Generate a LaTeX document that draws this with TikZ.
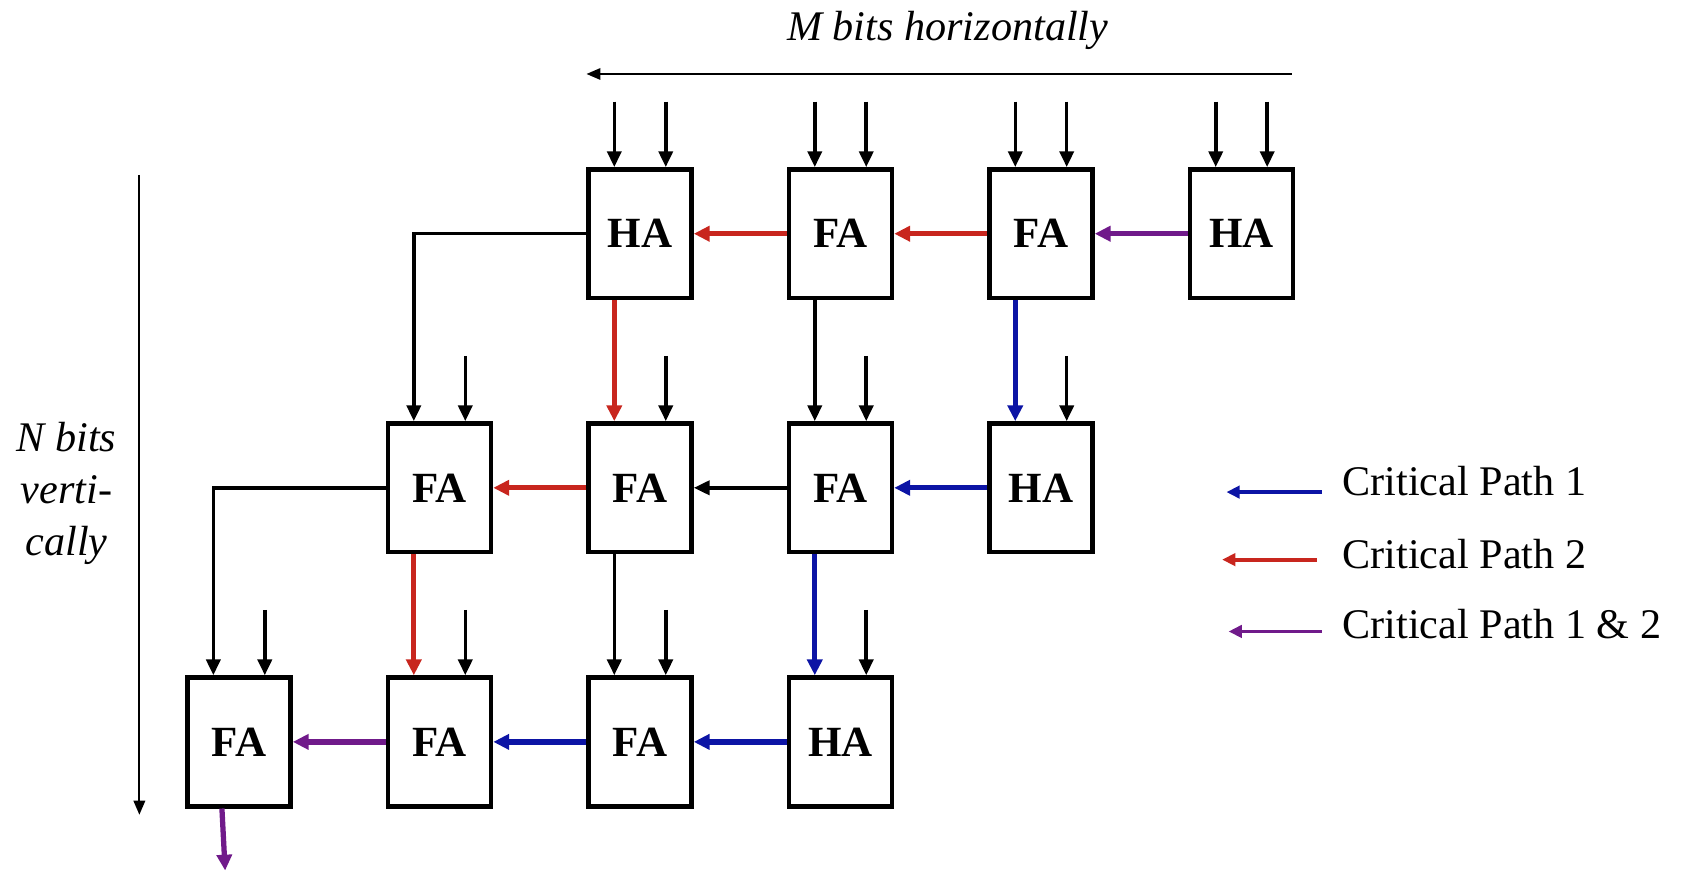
\documentclass[tikz,border=0pt]{standalone}
\usepackage{fontspec}
\setmainfont{Liberation Serif}
\usetikzlibrary{arrows.meta,calc}
\definecolor{cpred}{RGB}{200,38,30}
\definecolor{cpblue}{RGB}{12,20,165}
\definecolor{cppurple}{RGB}{112,26,138}
\begin{document}
\begin{tikzpicture}[x=0.02144cm,y=-0.02144cm,
  adder/.style={draw, line width=2.6pt, minimum width=2.058cm, minimum height=2.573cm,
    inner sep=0pt, font=\fontsize{24.5}{28}\selectfont\bfseries},
  wire/.style={line width=2pt, -{Triangle[length=9pt,width=8pt]}},
  crit/.style={line width=3pt, -{Triangle[length=9pt,width=8.5pt]}},
  keyline/.style={line width=2.2pt, -{Triangle[length=7.5pt,width=7pt]}},
  dimline/.style={line width=1.2pt, -{Triangle[length=8pt,width=6.5pt]}},
  label/.style={font=\fontsize{24}{29.5}\selectfont},
]
\useasboundingbox (0,0) rectangle (1568,813);

% adder cells, row by row (column 1 is the leftmost)
\node[adder] (b11) at (597,218) {HA};
\node[adder] (b12) at (784,218) {FA};
\node[adder] (b13) at (971,218) {FA};
\node[adder] (b14) at (1158,218) {HA};

\node[adder] (b21) at (410,455) {FA};
\node[adder] (b22) at (597,455) {FA};
\node[adder] (b23) at (784,455) {FA};
\node[adder] (b24) at (971,455) {HA};

\node[adder] (b31) at (223,692) {FA};
\node[adder] (b32) at (410,692) {FA};
\node[adder] (b33) at (597,692) {FA};
\node[adder] (b34) at (784,692) {HA};

% primary inputs
\foreach \b in {b11,b12,b13,b14}{
  \coordinate (\b la) at ($(\b.north)+(-24,-61)$);
  \coordinate (\b ra) at ($(\b.north)+(24,-61)$);
  \draw[wire] (\b la) -- (\b.north -| \b la);
  \draw[wire] (\b ra) -- (\b.north -| \b ra);
}
\foreach \b in {b21,b22,b23,b24,b31,b32,b33,b34}{
  \coordinate (\b ra) at ($(\b.north)+(24,-61)$);
  \draw[wire] (\b ra) -- (\b.north -| \b ra);
}

% left-input landing points
\foreach \b in {b21,b22,b23,b24,b31,b32,b33,b34}{
  \coordinate (\b li) at ($(\b.north)+(-24,0)$);
}
\foreach \b in {b11,b12,b13,b21,b22,b23}{
  \coordinate (\b lo) at ($(\b.south)+(-24,0)$);
}

% row 1 carries
\draw[crit,cppurple] (b14.west) -- (b13.east);
\draw[crit,cpred] (b13.west) -- (b12.east);
\draw[crit,cpred] (b12.west) -- (b11.east);
% row 1 to row 2
\draw[wire] (b11.west) -| (b21li);
\draw[crit,cpred] (b11lo) -- (b22li);
\draw[wire] (b12lo) -- (b23li);
\draw[crit,cpblue] (b13lo) -- (b24li);

% row 2 carries
\draw[crit,cpblue] (b24.west) -- (b23.east);
\draw[wire] (b23.west) -- (b22.east);
\draw[crit,cpred] (b22.west) -- (b21.east);
% row 2 to row 3
\draw[wire] (b21.west) -| (b31li);
\draw[crit,cpred] (b21lo) -- (b32li);
\draw[wire] (b22lo) -- (b33li);
\draw[crit,cpblue] (b23lo) -- (b34li);

% row 3 carries
\draw[crit,cpblue] (b34.west) -- (b33.east);
\draw[crit,cpblue] (b33.west) -- (b32.east);
\draw[crit,cppurple] (b32.west) -- (b31.east);

% final output
\coordinate (b31out) at ($(b31.south)+(-16,0)$);
\coordinate (finalout) at (210,812);
\draw[crit,cppurple] (b31out) -- (finalout);

% dimension arrows
\coordinate (mstart) at (1205,69);
\coordinate (mend) at (547,69);
\draw[dimline] (mstart) -- (mend);
\node[label,font=\fontsize{24}{29.5}\selectfont\itshape] (mlabel) at (884,28) {M bits horizontally};

\coordinate (nstart) at (130,163);
\coordinate (nend) at (130,760);
\draw[dimline] (nstart) -- (nend);
\node[label,font=\fontsize{24}{29.5}\selectfont\itshape,align=center] (nlabel) at (62,460) {N bits\\verti-\\cally};

% legend
\coordinate (k1s) at (1233,459); \coordinate (k1e) at (1144,459);
\coordinate (k2s) at (1228,522); \coordinate (k2e) at (1140,522);
\coordinate (k3s) at (1233,589); \coordinate (k3e) at (1146,589);
\draw[keyline,cpblue] (k1s) -- (k1e);
\draw[keyline,cpred] (k2s) -- (k2e);
\draw[keyline,cppurple] (k3s) -- (k3e);
\node[label,anchor=base west,inner sep=0pt] (k1t) at (1252,462) {Critical Path 1};
\node[label,anchor=base west,inner sep=0pt] (k2t) at (1252,530) {Critical Path 2};
\node[label,anchor=base west,inner sep=0pt] (k3t) at (1252,596) {Critical Path 1 \& 2};
\end{tikzpicture}
\end{document}
